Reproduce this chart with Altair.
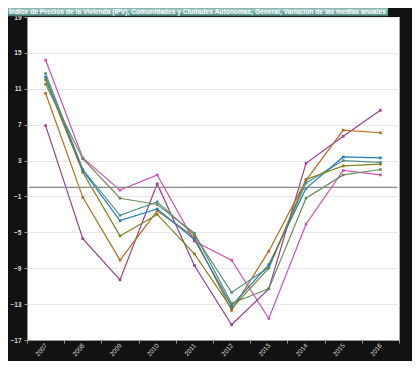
import altair as alt
import pandas as pd

years = ["2007", "2008", "2009", "2010", "2011", "2012", "2013", "2014", "2015", "2016"]

pink = [14.2, 3.3, -0.3, 1.4, -6.0, -8.1, -14.6, -4.1, 1.9, 1.4]
purple = [6.9, -5.7, -10.3, 0.4, -8.7, -15.3, -11.3, 2.7, 5.7, 8.6]
orange = [10.5, -1.1, -8.1, -2.6, -5.5, -13.7, -7.1, 0.8, 6.4, 6.1]
teal = [12.7, 2.0, -3.1, -1.6, -5.3, -11.7, -8.9, 0.5, 3.0, 2.8]
blue = [12.3, 1.9, -3.7, -2.4, -5.8, -13.2, -8.6, -0.1, 3.4, 3.3]
olive = [12.0, 1.7, -5.4, -3.0, -7.4, -13.5, -9.0, 0.9, 2.4, 2.6]
green = [11.5, 3.2, -1.2, -1.9, -5.1, -12.9, -11.3, -1.2, 1.4, 2.0]

series = {
    "Rosa": pink,
    "Morado": purple,
    "Naranja": orange,
    "Turquesa": teal,
    "Azul": blue,
    "Oliva": olive,
    "Verde": green,
}
colors = ["#d64db6", "#9c3f8e", "#b86a1c", "#52908c", "#1f7ec2", "#7f7f20", "#6b8a5c"]

title_text = ("Índice de Precios de la Vivienda (IPV), Comunidades y Ciudades Autónomas, "
              "General, Variación de las medias anuales")

rows = []
for name, vals in series.items():
    for yr, v in zip(years, vals):
        rows.append({"serie": name, "anio": yr, "valor": v})
df = pd.DataFrame(rows)

yticks = [-17, -13, -9, -5, -1, 3, 7, 11, 15, 19]

x_enc = alt.X(
    "anio:O",
    bandPosition=0.5,
    scale=alt.Scale(type="band", paddingInner=0, paddingOuter=0, domain=years),
    axis=alt.Axis(
        title=None, labelAngle=-50, labelAlign="right", labelBaseline="middle",
        tickBand="extent", labelColor="#dddddd", labelFontSize=6.5, labelFont="Liberation Sans",
        tickColor="#999999", tickSize=3, domainColor="#999999", labelPadding=1, grid=False,
        labelOverlap=False,
    ),
)
y_enc = alt.Y(
    "valor:Q",
    scale=alt.Scale(domain=[-17, 19], nice=False, zero=False),
    axis=alt.Axis(
        title=None, values=yticks, labelColor="#dddddd", labelFontSize=6.5,
        labelFont="Liberation Sans", tickColor="#999999", tickSize=3,
        domainColor="#999999", gridColor="#e8e8e8", labelPadding=3,
        labelOverlap=False, labelFontWeight="bold",
    ),
)
color_enc = alt.Color(
    "serie:N",
    scale=alt.Scale(domain=list(series.keys()), range=colors),
    legend=None,
)

base = alt.Chart(df)

lines = base.mark_line(strokeWidth=1.2).encode(x=x_enc, y=y_enc, color=color_enc, detail="serie:N")
points = base.mark_square(size=7, opacity=1).encode(x=x_enc, y=y_enc, color=color_enc)

zero = alt.Chart(pd.DataFrame({"valor": [0]})).mark_rule(color="#888888", strokeWidth=1.3).encode(
    y=y_enc, x=alt.value(2), x2=alt.value(370)
)

bar = alt.Chart(pd.DataFrame({"t": [title_text]})).mark_rect(
    color={
        "gradient": "linear", "x1": 0, "y1": 0, "x2": 0, "y2": 1,
        "stops": [
            {"offset": 0, "color": "#b5d8d2"},
            {"offset": 0.5, "color": "#7fb2aa"},
            {"offset": 1, "color": "#4e8780"},
        ],
    },
    stroke="#2f5e59", strokeWidth=0.5,
).encode(x=alt.value(-19), x2=alt.value(361), y=alt.value(-9), y2=alt.value(-1))

title = alt.Chart(pd.DataFrame({"t": [title_text]})).mark_text(
    align="left", baseline="middle", color="white", fontSize=6.7, fontWeight="bold",
    font="Liberation Sans",
).encode(x=alt.value(-18), y=alt.value(-5), text="t:N")

chart = alt.layer(lines, points, zero, bar, title).properties(
    width=372, height=323,
    background="#121212",
    padding={"left": 19, "top": 9, "right": 13, "bottom": 21},
    autosize=alt.AutoSizeParams(type="none"),
).configure_view(stroke="#aaaaaa", fill="white")

chart.save("out.html", embed_options={"renderer": "svg", "actions": False})
